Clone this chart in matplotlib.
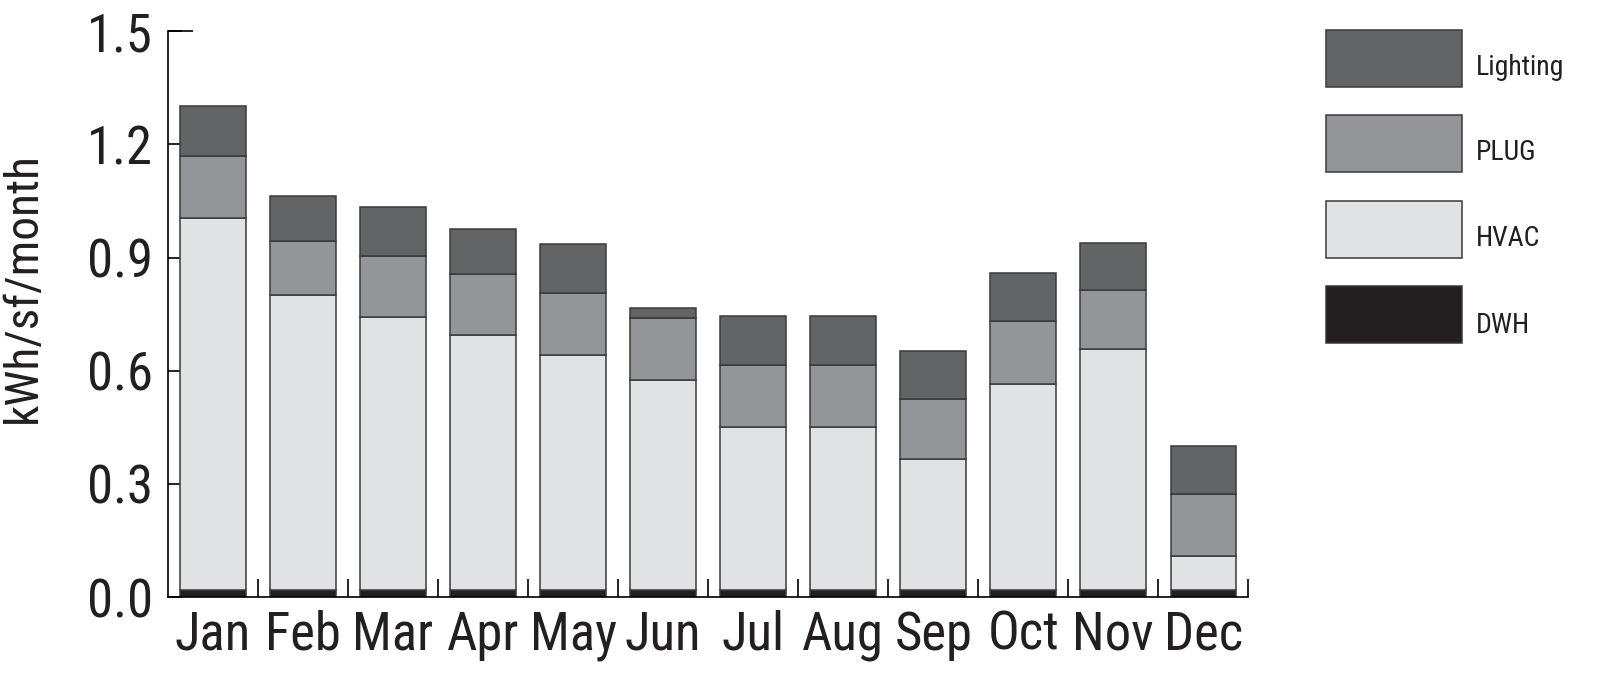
import matplotlib
matplotlib.use("Agg")
import matplotlib.pyplot as plt
from matplotlib.patches import Rectangle
import numpy as np

plt.rcParams['font.family'] = ['Roboto Condensed', 'DejaVu Sans']

months = ["Jan", "Feb", "Mar", "Apr", "May", "Jun", "Jul", "Aug", "Sep", "Oct", "Nov", "Dec"]
dwh = [0.020, 0.020, 0.020, 0.020, 0.018, 0.018, 0.018, 0.018, 0.018, 0.018, 0.018, 0.018]
hvac = [0.986, 0.782, 0.722, 0.675, 0.623, 0.557, 0.432, 0.432, 0.347, 0.547, 0.639, 0.091]
plug = [0.164, 0.142, 0.161, 0.161, 0.166, 0.164, 0.166, 0.166, 0.161, 0.166, 0.158, 0.164]
lighting = [0.131, 0.120, 0.131, 0.120, 0.128, 0.027, 0.129, 0.129, 0.126, 0.128, 0.123, 0.128]

series = [("DWH", dwh, "#231f20"), ("HVAC", hvac, "#e1e2e4"),
          ("PLUG", plug, "#939598"), ("Lighting", lighting, "#636466")]

fig = plt.figure(figsize=(16.15, 6.92), dpi=100)
ax = fig.add_axes([0.104, 0.137, 0.669, 0.818])

x = np.arange(len(months))
bottom = np.zeros(len(months))
for name, vals, color in series:
    ax.bar(x, vals, width=0.73, bottom=bottom, color=color,
           edgecolor="#3a3a3a", linewidth=1.1, zorder=2)
    bottom += np.array(vals)

ax.set_xlim(-0.5, 11.5)
ax.set_ylim(0, 1.5)
ax.set_yticks([0.0, 0.3, 0.6, 0.9, 1.2, 1.5])
ax.set_yticklabels(["0.0", "0.3", "0.6", "0.9", "1.2", "1.5"])
ax.set_xticks(x)
ax.set_xticklabels(months)
ax.set_xticks(np.arange(0.5, 12, 1), minor=True)
ax.tick_params(axis="x", which="major", length=0, labelsize=38, pad=9, colors="#231f20")
ax.tick_params(axis="x", which="minor", direction="in", length=13, width=1.2)
ax.tick_params(axis="y", direction="in", length=10, width=1.2, labelsize=38, pad=11, labelcolor="#231f20")
ax.hlines(1.5, -0.5, -0.5 + 25 / 90, color="black", linewidth=1.2, clip_on=False)
for s in ["top", "right"]:
    ax.spines[s].set_visible(False)
for s in ["left", "bottom"]:
    ax.spines[s].set_linewidth(1.2)

# y label sits a bit above the axes centre in the original
fig.text(0.014, 0.585, "kWh/sf/month", fontsize=34, rotation=90,
         ha="center", va="center", color="#231f20")

# legend boxes
legend_y = [0.874, 0.751, 0.627, 0.504]
text_y = [0.902, 0.779, 0.656, 0.530]
for (name, vals, color), by, ty in zip(series[::-1], legend_y, text_y):
    fig.add_artist(Rectangle((0.821, by), 0.0842, 0.0824, transform=fig.transFigure,
                             facecolor=color, edgecolor="#3a3a3a", linewidth=1.1))
    fig.text(0.914, ty, name, fontsize=20, va="center", ha="left", color="#231f20")

fig.savefig("out.png", dpi=100)
